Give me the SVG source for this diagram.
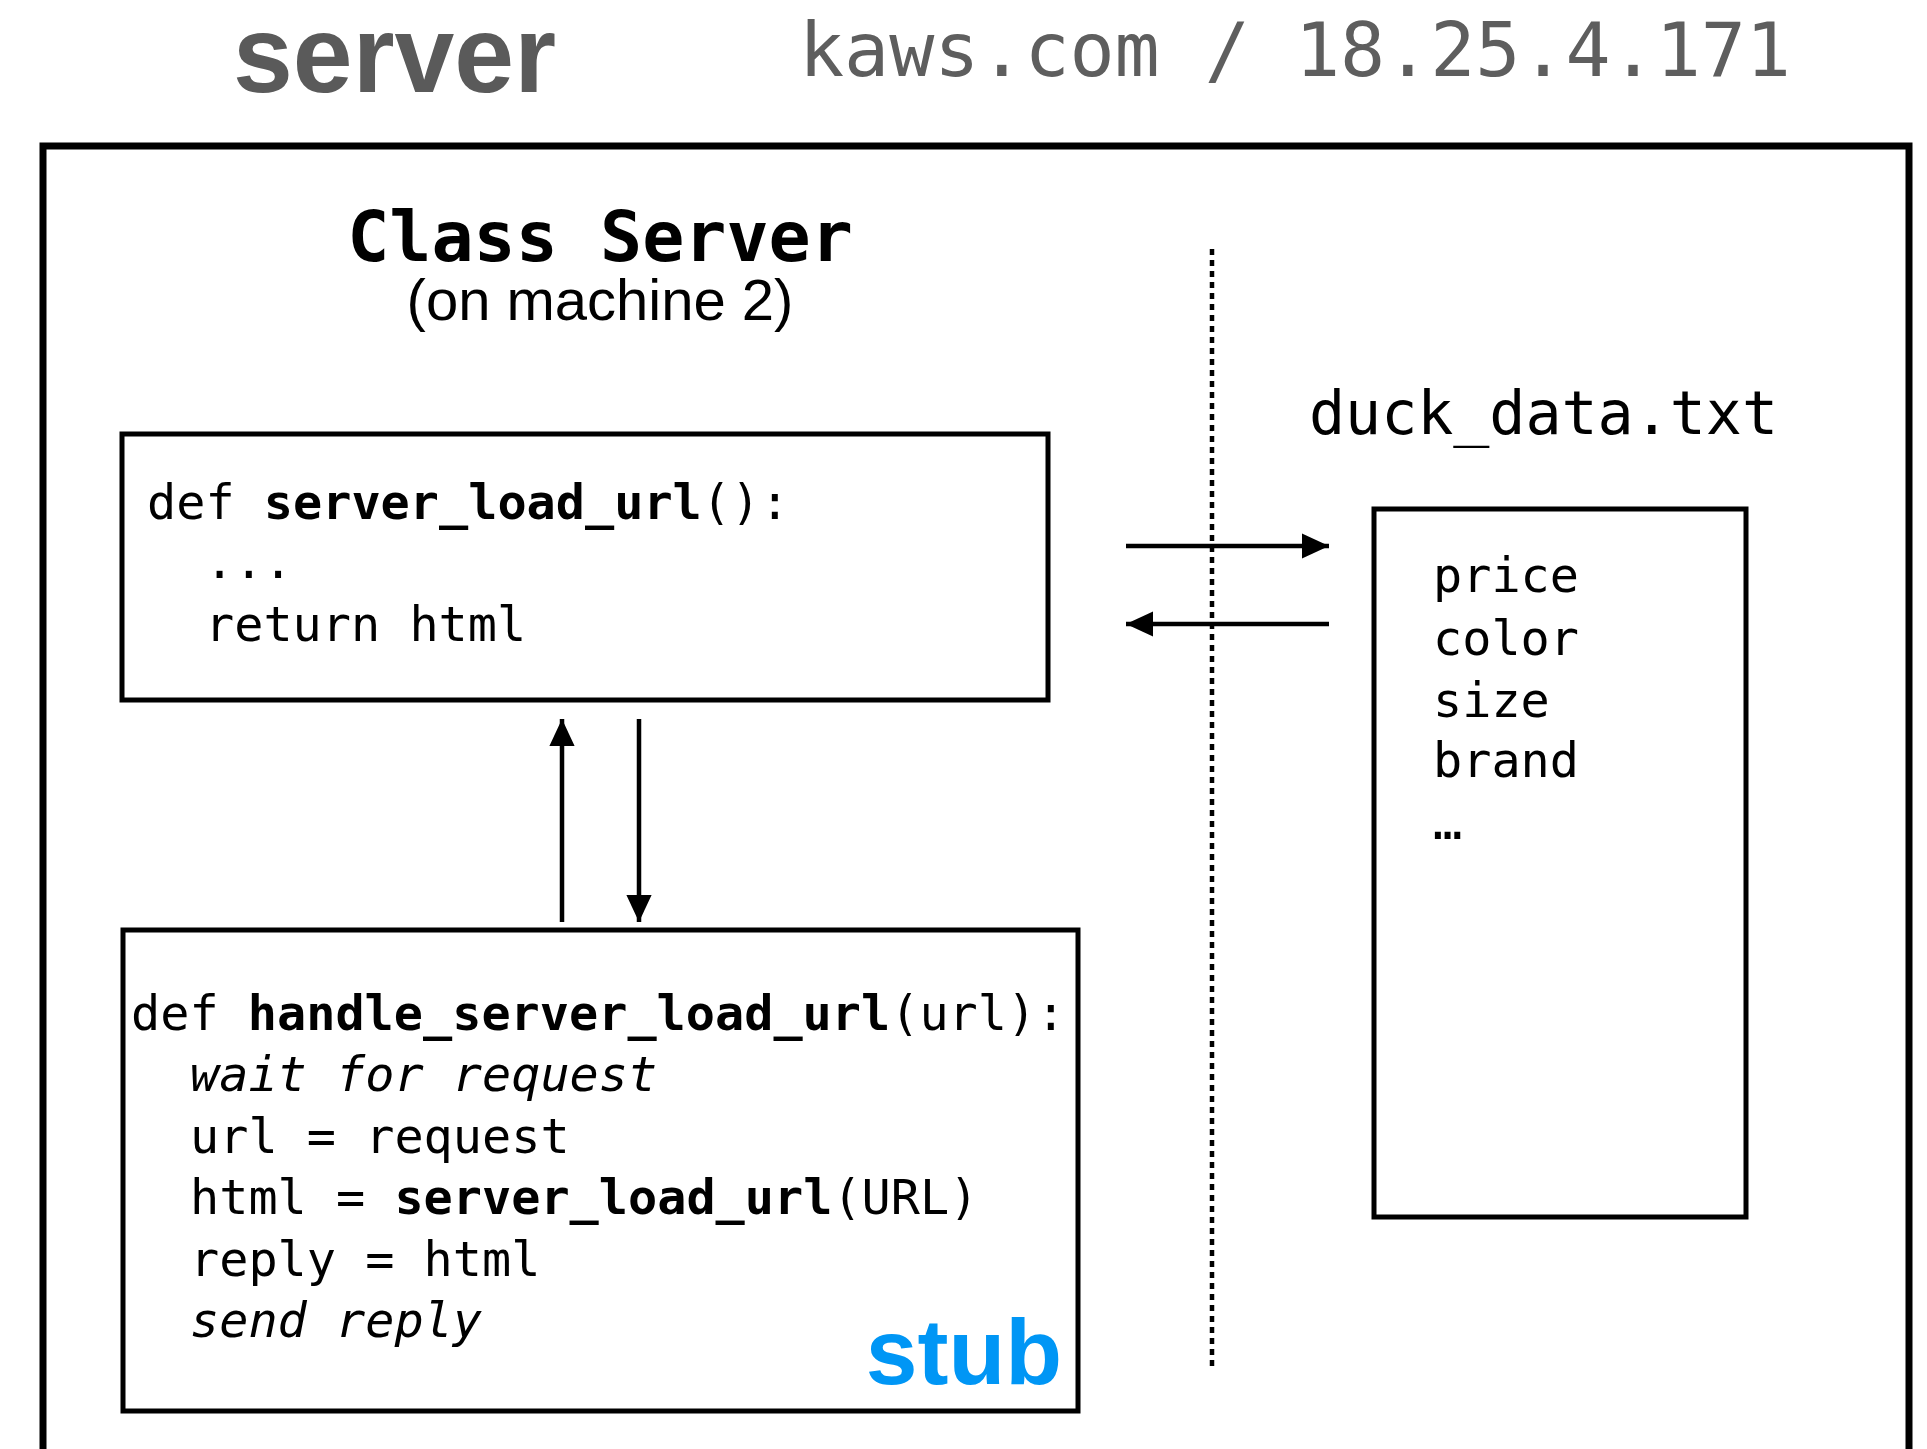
<svg xmlns="http://www.w3.org/2000/svg" width="1927" height="1449" viewBox="0 0 1927 1449">
<defs>
<style>
.mono{font-family:"DejaVu Sans Mono","Liberation Mono",monospace;}
.code{font-family:"DejaVu Sans Mono","Liberation Mono",monospace;font-size:48.5px;fill:#000;}
.b{font-weight:bold;}
.i{font-style:italic;}
.box{fill:none;stroke:#000;stroke-width:5;}
.conn{stroke:#000;stroke-width:4.5;fill:none;}
</style>
<marker id="ah" viewBox="0 0 10 10" refX="10" refY="5" markerWidth="6" markerHeight="5.6" markerUnits="strokeWidth" orient="auto" preserveAspectRatio="none">
<path d="M0,0 L10,5 L0,10 Z" fill="#000"/>
</marker>
</defs>
<rect width="1927" height="1449" fill="#fff"/>
<g id="header">
<text x="233" y="92" font-family="Liberation Sans, Arial, sans-serif" font-weight="bold" font-size="110" fill="#5a5a5a" textLength="323" lengthAdjust="spacingAndGlyphs">server</text>
<text x="799" y="76" class="mono" font-size="75" fill="#5e5e5e" textLength="992">kaws.com / 18.25.4.171</text>
</g>
<g id="machine">
<rect x="43" y="146" width="1866" height="1320" fill="none" stroke="#000" stroke-width="7"/>
<text x="600" y="261" class="mono b" font-size="70" text-anchor="middle">Class Server</text>
<text x="600" y="320" font-family="Liberation Sans, Arial, sans-serif" font-size="58" text-anchor="middle">(on machine 2)</text>
<line x1="1212" y1="249" x2="1212" y2="1368" stroke="#000" stroke-width="4.5" stroke-dasharray="6,5"/>
</g>
<g id="server_load_url">
<rect class="box" x="122" y="434" width="926" height="266"/>
<text class="code" x="147" y="519">def <tspan class="b">server_load_url</tspan>():</text>
<text class="code" x="205" y="578">...</text>
<text class="code" x="205" y="641">return html</text>
</g>
<g id="handle_server_load_url">
<rect class="box" x="123" y="930" width="955" height="481"/>
<text class="code" x="131" y="1030">def <tspan class="b">handle_server_load_url</tspan>(url):</text>
<text class="code i" x="190" y="1091">wait for request</text>
<text class="code" x="190" y="1153">url = request</text>
<text class="code" x="190" y="1214">html = <tspan class="b">server_load_url</tspan>(URL)</text>
<text class="code" x="190" y="1276">reply = html</text>
<text class="code i" x="190" y="1337">send reply</text>
<text x="1062" y="1384" font-family="Liberation Sans, Arial, sans-serif" font-weight="bold" font-size="93" fill="#0096f5" text-anchor="end">stub</text>
</g>
<g id="duck_data">
<text x="1309" y="434" class="mono" font-size="60" textLength="469">duck_data.txt</text>
<rect class="box" x="1374" y="509" width="372" height="708"/>
<text class="code" x="1433" y="592">price</text>
<text class="code" x="1433" y="655">color</text>
<text class="code" x="1433" y="717">size</text>
<text class="code" x="1433" y="777">brand</text>
<text class="code" x="1433" y="839" font-size="40">…</text>
</g>
<g id="connectors">
<line class="conn" x1="562" y1="922" x2="562" y2="719" marker-end="url(#ah)"/>
<line class="conn" x1="639" y1="719" x2="639" y2="922" marker-end="url(#ah)"/>
<line class="conn" x1="1126" y1="546" x2="1329" y2="546" marker-end="url(#ah)"/>
<line class="conn" x1="1329" y1="624" x2="1126" y2="624" marker-end="url(#ah)"/>
</g>
</svg>
